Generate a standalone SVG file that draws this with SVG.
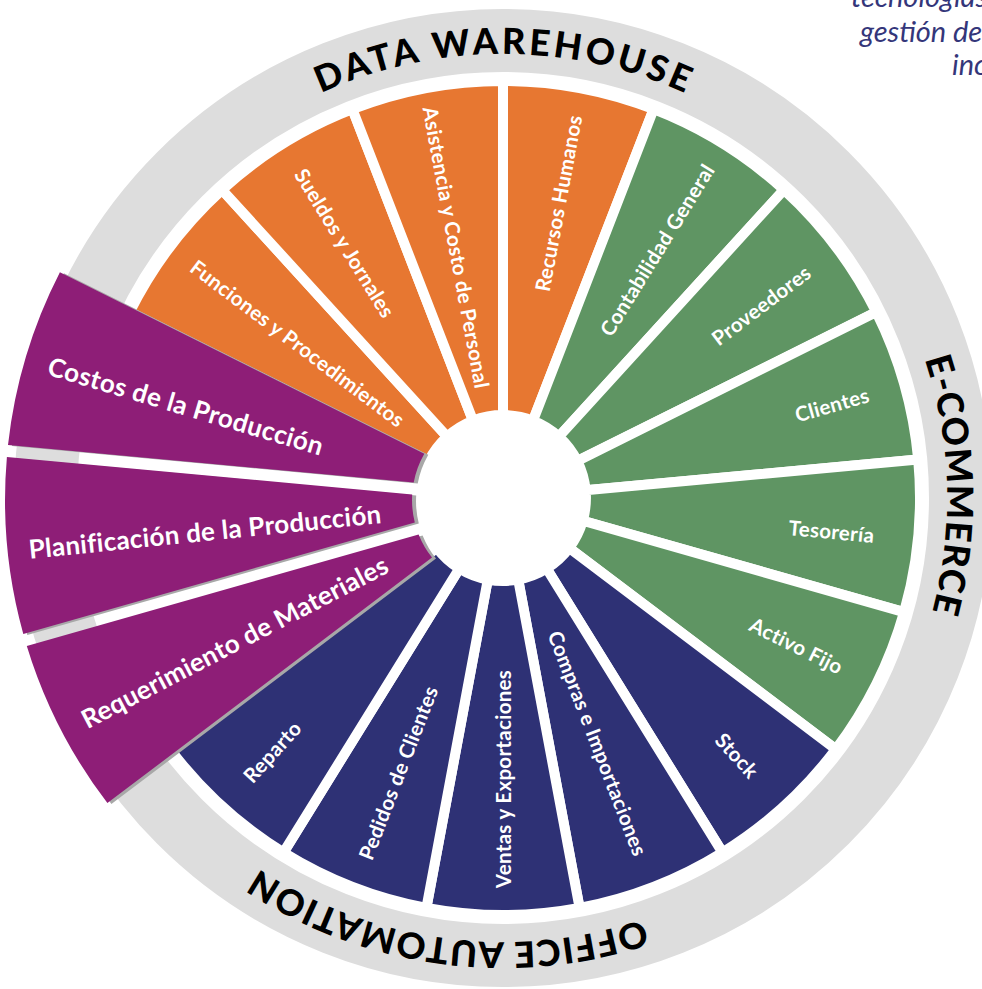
<svg xmlns="http://www.w3.org/2000/svg" width="982" height="989" viewBox="0 0 982 989">
<style>
.seg{stroke:#fff;stroke-width:10;stroke-linejoin:miter}
.o{fill:#e77731}.g{fill:#5f9563}.n{fill:#2e3175}.p{fill:#8e1e77}
.sh{fill:#a8a8a8}
.lbl{fill:#fff;font-family:Lato,"Open Sans",sans-serif;font-weight:700;font-size:20.5px;letter-spacing:0.3px;text-anchor:middle;dominant-baseline:central}
.big{font-size:26px;letter-spacing:0.3px}
.ring{fill:#000;font-family:Lato,"DejaVu Sans",sans-serif;font-weight:900;font-size:36px}
.corner{fill:#34367a;font-family:Lato,"Open Sans",sans-serif;font-style:italic;font-size:29px}
</style>
<defs>
<path id="arcTop" d="M118.5,276 A444,444 0 0 1 887.5,276"/>
<path id="arcRight" d="M713.5,107.1 A444,444 0 0 1 736.3,875.8"/>
<path id="arcBottom" d="M855.2,768.3 A444,444 0 0 1 92.8,667.9"/>
</defs>
<rect width="982" height="989" fill="#fff"/>
<g id="ring">
<circle cx="503" cy="498" r="457.5" fill="none" stroke="#dddddd" stroke-width="63"/>
</g>
<g id="connectors"/>
<g id="recursos-humanos"><path class="seg o" d="M503,415 L503,81 A417,417 0 0 1 653.6,109.2 L533.0,420.6 A83,83 0 0 0 503,415 Z"/><text class="lbl" transform="translate(558.1,203.1) rotate(-79.41)">Recursos Humanos</text></g>
<g id="contabilidad-general"><path class="seg g" d="M533.0,420.6 L653.6,109.2 A417,417 0 0 1 783.9,189.8 L558.9,436.7 A83,83 0 0 0 533.0,420.6 Z"/><text class="lbl" transform="translate(656.7,249.7) rotate(-58.24)">Contabilidad General</text></g>
<g id="proveedores"><path class="seg g" d="M558.9,436.7 L783.9,189.8 A417,417 0 0 1 876.3,312.1 L577.3,461.0 A83,83 0 0 0 558.9,436.7 Z"/><text class="lbl" transform="translate(761.0,305.0) rotate(-37.06)">Proveedores</text></g>
<g id="clientes"><path class="seg g" d="M577.3,461.0 L876.3,312.1 A417,417 0 0 1 918.2,459.5 L585.6,490.3 A83,83 0 0 0 577.3,461.0 Z"/><text class="lbl" transform="translate(831.9,404.4) rotate(-15.88)">Clientes</text></g>
<g id="tesoreria"><path class="seg g" d="M585.6,490.3 L918.2,459.5 A417,417 0 0 1 904.1,612.1 L582.8,520.7 A83,83 0 0 0 585.6,490.3 Z"/><text class="lbl" transform="translate(831.6,531) rotate(5.29)">Tesorería</text></g>
<g id="activo-fijo"><path class="seg g" d="M582.8,520.7 L904.1,612.1 A417,417 0 0 1 835.8,749.3 L569.2,548.0 A83,83 0 0 0 582.8,520.7 Z"/><text class="lbl" transform="translate(796.6,645.2) rotate(26.47)">Activo Fijo</text></g>
<g id="stock"><path class="seg n" d="M569.2,548.0 L835.8,749.3 A417,417 0 0 1 722.5,852.5 L546.7,568.6 A83,83 0 0 0 569.2,548.0 Z"/><text class="lbl" transform="translate(737.4,755.2) rotate(47.65)">Stock</text></g>
<g id="compras-importaciones"><path class="seg n" d="M546.7,568.6 L722.5,852.5 A417,417 0 0 1 579.6,907.9 L518.2,579.6 A83,83 0 0 0 546.7,568.6 Z"/><text class="lbl" transform="translate(598.0,743.2) rotate(68.82)">Compras e Importaciones</text></g>
<g id="ventas-exportaciones"><path class="seg n" d="M518.2,579.6 L579.6,907.9 A417,417 0 0 1 426.4,907.9 L487.8,579.6 A83,83 0 0 0 518.2,579.6 Z"/><text class="lbl" transform="translate(503,779) rotate(-90)">Ventas y Exportaciones</text></g>
<g id="pedidos-clientes"><path class="seg n" d="M487.8,579.6 L426.4,907.9 A417,417 0 0 1 283.5,852.5 L459.3,568.6 A83,83 0 0 0 487.8,579.6 Z"/><text class="lbl" transform="translate(397.8,772.7) rotate(-68.82)">Pedidos de Clientes</text></g>
<g id="reparto"><path class="seg n" d="M459.3,568.6 L283.5,852.5 A417,417 0 0 1 170.2,749.3 L436.8,548.0 A83,83 0 0 0 459.3,568.6 Z"/><text class="lbl" transform="translate(271.9,751.5) rotate(-47.65)">Reparto</text></g>
<g id="funciones-procedimientos"><path class="seg o" d="M428.7,461.0 L129.7,312.1 A417,417 0 0 1 222.1,189.8 L447.1,436.7 A83,83 0 0 0 428.7,461.0 Z"/><text class="lbl" transform="translate(297.9,343.1) rotate(37.06)">Funciones y Procedimientos</text></g>
<g id="sueldos-jornales"><path class="seg o" d="M447.1,436.7 L222.1,189.8 A417,417 0 0 1 352.4,109.2 L473.0,420.6 A83,83 0 0 0 447.1,436.7 Z"/><text class="lbl" transform="translate(345.1,242.9) rotate(58.24)">Sueldos y Jornales</text></g>
<g id="asistencia-costo-personal"><path class="seg o" d="M473.0,420.6 L352.4,109.2 A417,417 0 0 1 503,81 L503,415 A83,83 0 0 0 473.0,420.6 Z"/><text class="lbl" transform="translate(456.6,247.3) rotate(79.41)">Asistencia y Costo de Personal</text></g>
<g id="costos-produccion">
<path class="sh" transform="translate(4,1)" d="M413.7,482.5 L8.0,445.0 A500,500 0 0 1 59.9,272.3 L424.3,453.8 A93,93 0 0 0 413.7,482.5 Z"/>
<path class="p" d="M413.7,482.5 L8.0,445.0 A500,500 0 0 1 59.9,272.3 L424.3,453.8 A93,93 0 0 0 413.7,482.5 Z"/>
<text class="lbl big" style="letter-spacing:0.4px" transform="translate(186,405.5) rotate(16.5)">Costos de la Producción</text></g>
<g id="planificacion-produccion">
<path class="sh" transform="translate(4,1)" d="M414.8,522.6 L23.3,634.0 A500,500 0 0 1 6.9,456.9 L412.2,494.4 A93,93 0 0 0 414.8,522.6 Z"/>
<path class="p" d="M414.8,522.6 L23.3,634.0 A500,500 0 0 1 6.9,456.9 L412.2,494.4 A93,93 0 0 0 414.8,522.6 Z"/>
<text class="lbl big" transform="translate(205,531) rotate(-5.8)">Planificación de la Producción</text></g>
<g id="requerimiento-materiales">
<path class="sh" transform="translate(4,1)" d="M432.0,557.6 L107.4,803.1 A500,500 0 0 1 26.8,645.9 L418.6,534.5 A93,93 0 0 0 432.0,557.6 Z"/>
<path class="p" d="M432.0,557.6 L107.4,803.1 A500,500 0 0 1 26.8,645.9 L418.6,534.5 A93,93 0 0 0 432.0,557.6 Z"/>
<text class="lbl big" transform="translate(234.5,641.5) rotate(-27.5)">Requerimiento de Materiales</text></g>
<g id="ring-labels">
<text class="ring"><textPath href="#arcTop" startOffset="50%" text-anchor="middle" textLength="375" lengthAdjust="spacing">DATA WAREHOUSE</textPath></text>
<text class="ring"><textPath href="#arcRight" startOffset="50%" text-anchor="middle" textLength="256" lengthAdjust="spacing">E-COMMERCE</textPath></text>
<text class="ring"><textPath href="#arcBottom" startOffset="50%" text-anchor="middle" textLength="401" lengthAdjust="spacing">OFFICE AUTOMATION</textPath></text>
</g>
<g id="corner-text" class="corner">
<text x="851" y="7">tecnologías</text>
<text x="860" y="42">gestión de</text>
<text x="952" y="75">inc</text>
</g>
</svg>
